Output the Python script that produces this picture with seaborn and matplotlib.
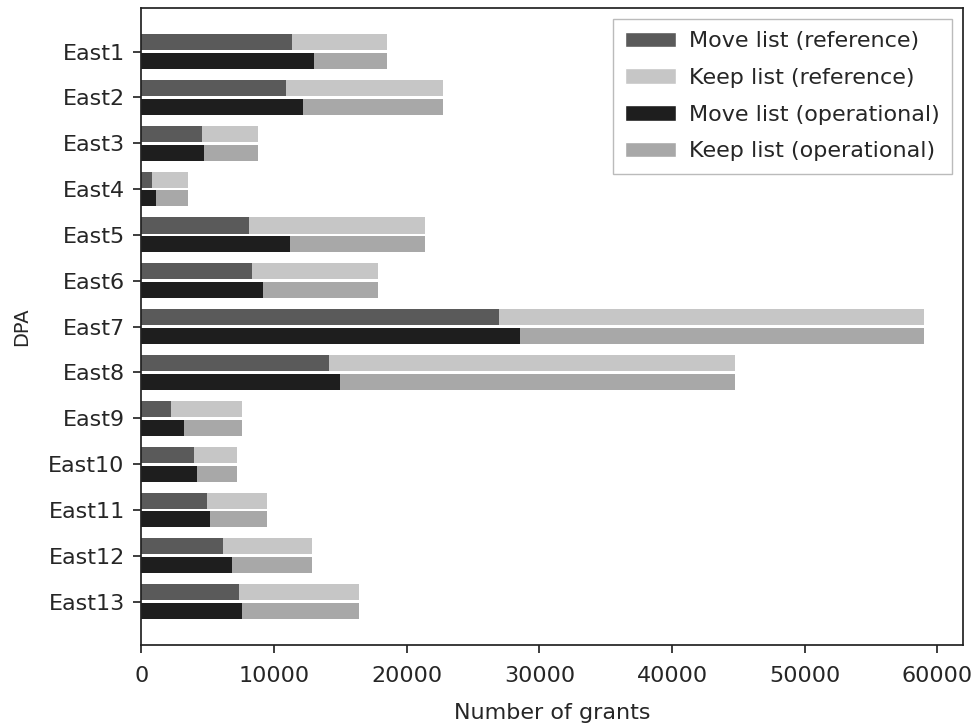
import numpy as np
import pandas as pd
import matplotlib
matplotlib.use("Agg")
import matplotlib.pyplot as plt
import seaborn as sns
from matplotlib.patches import Patch

dpas = [f"East{i}" for i in range(1, 14)]
total_grants = [18550, 22740, 8780, 3530, 21410, 17870, 58950, 44730, 7600, 7220, 9480, 12900, 16390]
move_reference = [11340, 10940, 4610, 840, 8120, 8330, 26940, 14150, 2200, 3960, 4960, 6120, 7370]
move_operational = [13000, 12220, 4710, 1090, 11210, 9180, 28570, 15010, 3200, 4160, 5210, 6840, 7600]
sources = ["reference", "operational"]

sns.set_theme(style="ticks")
plt.rcParams["font.family"] = ["DejaVu Sans"]
plt.rcParams["font.size"] = 16

df_total = pd.DataFrame({
    "DPA": dpas * 2,
    "source": ["reference"] * 13 + ["operational"] * 13,
    "grants": total_grants * 2,
})
df_move = pd.DataFrame({
    "DPA": dpas * 2,
    "source": ["reference"] * 13 + ["operational"] * 13,
    "grants": move_reference + move_operational,
})

c_move_ref = "#5a5a5a"
c_keep_ref = "#c6c6c6"
c_move_op = "#1e1e1e"
c_keep_op = "#a8a8a8"

fig, ax = plt.subplots(figsize=(9.78, 7.25), dpi=100)
sns.barplot(data=df_total, y="DPA", x="grants", hue="source", hue_order=sources,
            palette=[c_keep_ref, c_keep_op], orient="h", ax=ax, legend=False,
            errorbar=None, saturation=1, width=0.82, dodge=True)
sns.barplot(data=df_move, y="DPA", x="grants", hue="source", hue_order=sources,
            palette=[c_move_ref, c_move_op], orient="h", ax=ax, legend=False,
            errorbar=None, saturation=1, width=0.82, dodge=True)

# leave a thin gap between the paired bars
for p in ax.patches:
    p.set_linewidth(0)
    p.set_y(p.get_y() + 0.03)
    p.set_height(p.get_height() - 0.06)

ax.set_xlim(0, 61950)
ax.set_ylim(12.95, -0.95)
ax.set_xlabel("Number of grants", fontsize=16, labelpad=12)
ax.set_ylabel("DPA", fontsize=14, labelpad=12)
ax.tick_params(axis="x", labelsize=16, pad=9)
ax.tick_params(axis="y", labelsize=16, pad=6)
for s in ax.spines.values():
    s.set_visible(True)
    s.set_color("#222222")

handles = [
    Patch(facecolor=c_move_ref, label="Move list (reference)"),
    Patch(facecolor=c_keep_ref, label="Keep list (reference)"),
    Patch(facecolor=c_move_op, label="Move list (operational)"),
    Patch(facecolor=c_keep_op, label="Keep list (operational)"),
]
leg = ax.legend(handles=handles, loc="upper right", fontsize=16, frameon=True,
                fancybox=False, edgecolor="#aaaaaa", handlelength=2.3,
                handletextpad=0.6, borderaxespad=0.5, labelspacing=0.75,
                borderpad=0.55)

fig.subplots_adjust(left=0.1445, right=0.985, top=0.989, bottom=0.11)
fig.savefig("out.png", dpi=100)
